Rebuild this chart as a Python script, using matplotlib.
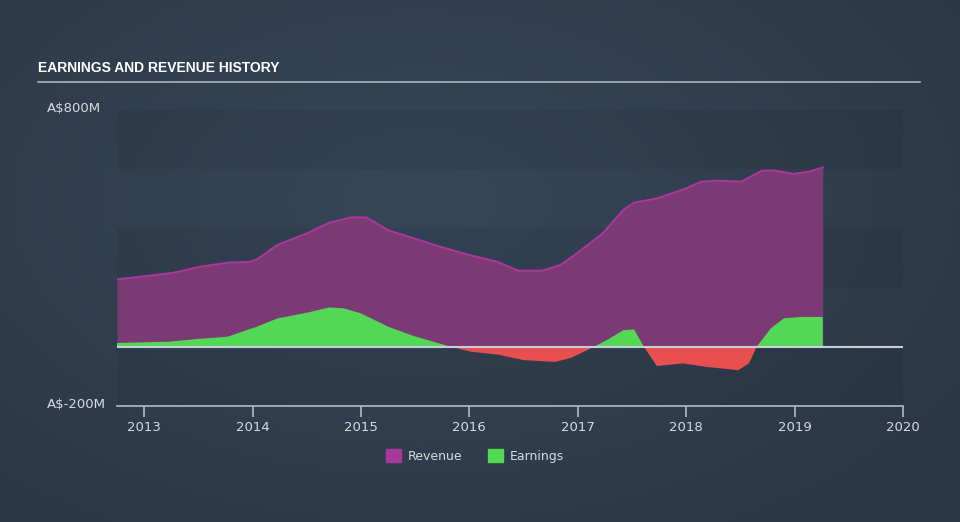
import numpy as np
import matplotlib
matplotlib.use("Agg")
import matplotlib.pyplot as plt
from matplotlib.patches import Patch

# Umsatz (Mio. A$)
rev_t = [2012.75, 2012.98, 2013.27, 2013.51, 2013.77, 2013.97, 2014.04, 2014.23, 2014.50,
         2014.71, 2014.91, 2015.05, 2015.25, 2015.44, 2015.73, 2016.00, 2016.26, 2016.45,
         2016.67, 2016.84, 2016.99, 2017.23, 2017.42, 2017.52, 2017.73, 2018.00, 2018.14,
         2018.29, 2018.51, 2018.70, 2018.82, 2018.99, 2019.14, 2019.26]
rev_v = [228, 237, 250, 270, 284, 287, 295, 344, 383,
         419, 437, 437, 394, 372, 338, 310, 287, 257,
         257, 276, 315, 383, 462, 487, 501, 535, 558,
         561, 558, 595, 595, 584, 592, 606]

# Gewinn (Mio. A$)
earn_t = [2012.75, 2013.22, 2013.51, 2013.77, 2014.04, 2014.23, 2014.50, 2014.71, 2014.84,
          2015.00, 2015.25, 2015.49, 2015.83, 2016.02, 2016.26, 2016.50, 2016.79, 2016.94,
          2017.15, 2017.28, 2017.42, 2017.52, 2017.61, 2017.73, 2017.97, 2018.19, 2018.48,
          2018.58, 2018.65, 2018.78, 2018.90, 2019.06, 2019.26]
earn_v = [13, 17, 27, 34, 68, 96, 115, 133, 130,
          113, 68, 36, 0, -17, -26, -45, -51, -37,
          0, 25, 56, 59, 0, -65, -56, -68, -79,
          -56, 0, 62, 96, 101, 101]

years = [2013, 2014, 2015, 2016, 2017, 2018, 2019, 2020]
y_labels = ["A$800M", "A$-200M"]

rev_t, rev_v = np.array(rev_t), np.array(rev_v)
earn_t, earn_v = np.array(earn_t), np.array(earn_v)

fig = plt.figure(figsize=(9.6, 5.22), dpi=100)

# Hintergrund mit radialem Verlauf
bg = fig.add_axes([0, 0, 1, 1], zorder=0)
yy, xx = np.mgrid[0:522, 0:960]
r = np.sqrt(((xx - 420) / 700) ** 2 + ((yy - 200) / 420) ** 2)
r = np.clip(r, 0, 1)
c_in = np.array([0x36, 0x47, 0x5a]) / 255
c_out = np.array([0x2b, 0x36, 0x44]) / 255
img = c_in[None, None, :] * (1 - r[..., None]) + c_out[None, None, :] * r[..., None]
bg.imshow(img, aspect="auto", extent=[0, 1, 0, 1])
bg.axis("off")

# Titel und Linie
fig.text(38 / 960, 1 - 68 / 522, "EARNINGS AND REVENUE HISTORY", color="white",
         fontsize=10, fontweight="bold", family=["Liberation Sans", "DejaVu Sans"],
         va="center", ha="left")
fig.add_artist(plt.Line2D([38 / 960, 920 / 960], [1 - 82 / 522, 1 - 82 / 522],
                          color="#aab4c0", lw=1.2))

ax = fig.add_axes([117 / 960, 1 - 406 / 522, 786 / 960, 296 / 522], zorder=1)
ax.set_facecolor("none")
ax.set_xlim(2012.75, 2020.0)
ax.set_ylim(-200, 800)

# dunklere Bänder
for lo, hi in [(600, 800), (200, 400), (-200, 0)]:
    ax.axhspan(lo, hi, color="black", alpha=0.06, lw=0, zorder=0)

ax.fill_between(rev_t, 0, rev_v, color="#7b3a74", lw=0, zorder=2)
ax.plot(rev_t, rev_v, color="#a8389a", lw=1.5, zorder=3)
ax.fill_between(earn_t, 0, earn_v, where=earn_v >= 0, interpolate=True,
                color="#53d855", lw=0, zorder=4)
ax.fill_between(earn_t, 0, earn_v, where=earn_v <= 0, interpolate=True,
                color="#e84f4f", lw=0, zorder=4)
ax.axhline(0, color="#c9ced4", lw=1.5, zorder=5)

for s in ["top", "right", "left"]:
    ax.spines[s].set_visible(False)
ax.spines["bottom"].set_color("#b0bccb")
ax.spines["bottom"].set_linewidth(1.2)
ax.set_yticks([])
ax.set_xticks(years)
ax.set_xticklabels([str(y) for y in years])
ax.tick_params(axis="x", colors="#b0bccb", length=8, width=1.2, pad=3, labelsize=9.5,
               labelcolor="#d5dbe1")

# y-Beschriftungen
fig.text(47 / 960, 1 - 108 / 522, y_labels[0], color="#d5dbe1", fontsize=9.5, va="center")
fig.text(47 / 960, 1 - 404 / 522, y_labels[1], color="#d5dbe1", fontsize=9.5, va="center")

handles = [Patch(color="#a8389a", label="Revenue"), Patch(color="#53d855", label="Earnings")]
fig.legend(handles=handles, loc="center", bbox_to_anchor=(475 / 960, 1 - 456 / 522), ncol=2,
           frameon=False, fontsize=9, labelcolor="#d5dbe1", handlelength=1.2,
           handleheight=1.2, columnspacing=2.0, handletextpad=0.6)

fig.savefig("out.png", dpi=100)
